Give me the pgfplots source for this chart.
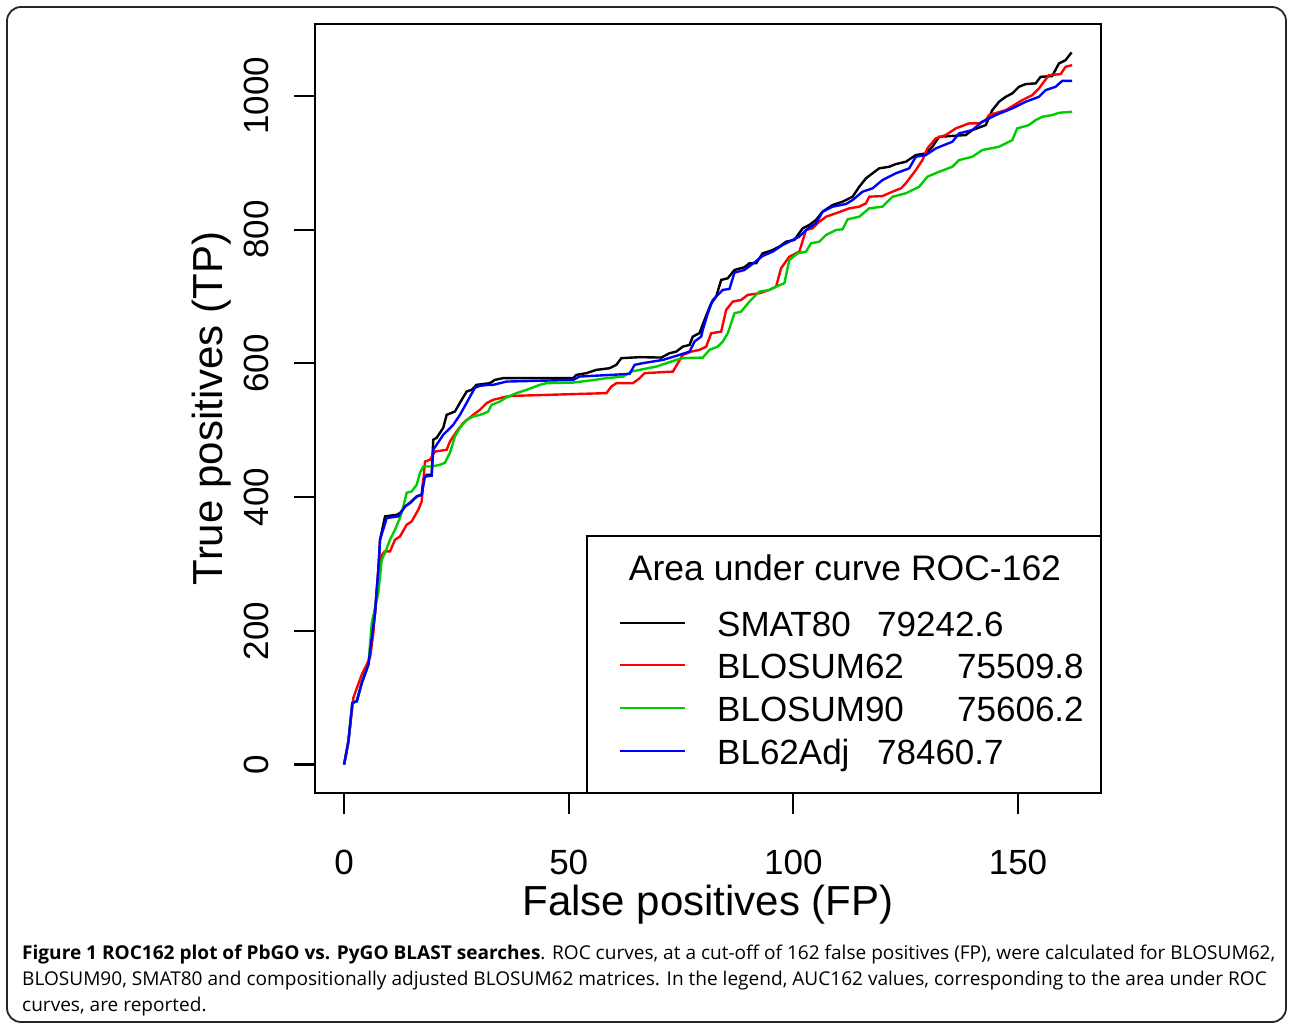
\documentclass[border=0pt]{standalone}
\usepackage{pgfplots}
\pgfplotsset{compat=1.18}
\usepackage{pgfplotstable}
\usepackage{fontspec}
\usepackage{graphicx}
\setmainfont{Liberation Sans}
\newfontfamily\capfont{Open Sans}
\definecolor{rgreen}{RGB}{0,205,0}

\pgfplotstableread{
x y
0 0
0.96 34.8
1.84 92.2
2.82 94.6
3.93 122.1
5.4 149.4
6.89 227.1
7.62 291.4
8.0 336.2
9.11 371.1
11.71 373.6
12.44 376.1
13.56 386.0
14.67 391.5
16.16 401.0
17.27 403.5
17.62 425.9
18.38 433.4
19.49 433.4
19.84 485.7
20.6 488.7
22.07 503.6
22.82 523.0
24.67 528.0
25.78 541.0
27.27 557.9
28.38 560.4
29.49 567.9
32.44 570.4
33.56 575.3
35.4 577.9
50.96 577.9
51.71 582.8
53.93 585.4
56.16 590.3
59.11 592.8
60.6 597.8
61.71 607.8
65.78 609.3
70.6 608.7
72.44 615.2
73.93 617.6
75.4 625.1
76.89 627.6
77.62 640.1
79.11 645.2
80.22 665.1
81.71 690.0
82.82 699.8
83.93 724.8
85.4 727.3
86.89 739.7
89.11 743.8
90.22 749.7
91.71 749.7
93.18 764.7
95.04 768.6
96.89 774.6
98.38 782.0
100.22 784.6
102.07 802.0
103.56 807.0
105.04 814.5
106.51 826.9
108.73 836.9
110.96 841.8
113.18 849.3
114.67 864.2
116.16 876.8
117.62 884.3
119.11 891.7
121.33 894.1
122.82 898.1
125.04 901.6
127.27 911.6
129.49 914.1
130.96 924.0
132.44 938.9
138.38 941.5
139.84 949.0
142.82 956.4
144.29 978.8
145.78 991.3
147.27 998.7
148.73 1003.8
150.22 1013.7
151.71 1017.7
153.93 1018.8
155.04 1028.6
157.62 1029.7
159.11 1048.6
160.6 1053.6
161.93 1065.1
}\smat

\pgfplotstableread{
x y
0 0
0.96 34.8
2.07 100.1
3.93 134.5
5.78 159.9
6.51 197.3
7.62 291.4
8.38 313.8
9.11 318.8
10.22 318.8
11.33 336.2
12.44 341.2
13.93 358.7
15.04 363.6
16.51 381.1
17.27 393.5
18.0 453.3
19.11 455.8
20.22 468.2
22.82 470.7
23.56 483.2
25.04 498.1
26.51 510.6
28.73 523.0
30.22 530.5
31.71 540.5
33.18 545.5
36.16 550.4
37.62 551.4
58.38 555.5
59.49 565.4
60.6 570.4
64.29 570.4
65.78 577.9
66.89 585.4
73.18 587.7
74.29 600.3
75.4 612.7
77.27 617.6
79.11 620.2
80.6 625.1
81.71 645.1
83.93 647.5
85.04 680.0
86.51 692.4
88.38 694.9
89.84 702.4
92.44 704.9
94.67 709.9
96.16 714.8
97.27 742.3
99.11 759.6
101.33 767.1
102.82 799.5
104.29 802.0
105.78 811.9
107.27 819.4
109.49 824.5
112.44 831.9
114.67 834.4
116.16 839.4
116.89 849.3
119.84 850.3
122.07 856.8
123.93 861.8
125.04 869.3
127.27 889.2
128.73 904.1
129.84 921.6
131.71 936.6
133.93 941.5
136.16 951.5
139.11 959.0
141.33 959.0
142.82 963.9
143.56 971.4
147.27 978.8
150.96 993.8
153.18 1001.2
154.67 1011.2
156.89 1031.1
159.49 1032.6
160.6 1043.6
162.07 1046.1
}\blosumsixtytwo

\pgfplotstableread{
x y
0 0
0.96 34.8
1.84 92.2
2.82 94.6
3.93 122.1
5.4 149.4
6.16 212.2
7.62 257.0
8.38 306.4
9.11 316.8
10.22 336.2
11.33 351.2
12.44 369.1
13.18 386.0
13.93 406.5
15.04 408.4
16.16 418.4
16.89 436.4
17.62 445.8
19.49 445.8
21.33 448.3
22.44 451.3
23.56 466.3
24.67 490.6
25.78 503.6
27.27 515.6
28.73 520.5
30.22 523.0
31.33 525.6
32.07 528.0
32.82 538.0
34.67 542.9
36.16 549.2
38.38 555.5
40.6 560.4
43.56 567.9
45.04 570.4
50.96 571.3
54.67 574.3
58.38 577.9
62.07 580.3
63.93 587.7
65.78 590.3
69.49 595.2
73.93 605.2
75.4 607.8
79.84 608.7
81.33 620.2
83.18 625.1
84.29 632.6
85.4 645.1
86.89 675.0
88.38 677.4
90.22 692.4
92.44 707.3
94.67 709.9
96.16 714.8
98.0 719.9
99.11 754.7
100.96 764.7
102.82 767.1
103.93 779.6
105.78 782.0
107.27 792.0
109.49 799.5
110.96 800.6
112.07 815.5
114.67 819.4
116.89 831.9
119.84 834.4
122.07 849.3
125.04 854.4
128.0 864.2
129.84 879.2
132.44 886.6
135.4 894.1
136.89 904.1
139.84 909.1
142.07 919.1
145.78 924.0
148.73 934.0
149.84 951.5
152.44 956.4
153.93 963.9
155.4 968.8
157.62 971.4
159.11 974.8
162.07 976.3
}\blosumninety

\pgfplotstableread{
x y
0 0
0.96 34.8
1.84 92.2
2.82 94.6
3.93 122.1
5.4 149.4
6.89 227.1
7.62 291.4
8.0 336.2
9.49 368.7
12.07 371.1
13.56 386.0
14.67 391.0
16.16 401.0
17.27 403.5
18.0 430.8
19.49 431.9
19.84 470.7
22.07 493.2
24.29 508.1
25.78 523.0
27.27 541.0
29.11 563.4
30.22 566.4
32.07 567.9
33.18 567.9
36.16 572.8
50.96 575.3
52.44 580.3
63.56 584.3
64.67 597.8
66.51 600.3
70.96 605.2
74.67 612.7
76.89 617.6
78.0 632.6
79.49 640.1
79.84 650.1
80.96 675.0
82.07 694.9
84.29 709.9
85.78 711.3
86.89 735.7
89.11 739.7
90.6 747.2
93.18 760.7
95.4 767.1
97.62 777.1
99.84 784.6
101.33 789.5
102.82 799.5
105.04 809.5
106.51 826.9
108.73 834.4
111.71 838.4
113.18 844.3
115.4 856.8
117.62 861.8
119.84 874.2
122.82 884.3
125.78 891.7
127.27 909.1
129.49 911.6
131.71 921.6
135.4 931.5
136.89 944.0
139.84 949.0
142.07 961.4
145.04 971.4
148.73 981.4
151.71 991.3
154.67 998.7
156.16 1008.7
158.38 1013.7
159.84 1022.6
162.07 1022.6
}\blsixtytwoadj

\newlength\capw
\newcommand\capfnt{\capfont\fontsize{19}{26}\selectfont}

\begin{document}
\settowidth\capw{\capfnt\textbf{Figure 1 ROC162 plot of PbGO vs. PyGO BLAST searches}. ROC curves, at a cut-off of 162 false positives (FP), were calculated for BLOSUM62,}%
\pgfmathsetmacro\capr{1253/\capw}%
\begin{tikzpicture}[x=1pt,y=1pt]
\useasboundingbox (0,0) rectangle (1290,-1026);
\draw[line width=1.8pt, color=black!85, rounded corners=14pt] (7,-7) rectangle (1286,-1022);
\begin{axis}[
  at={(315pt,-24pt)}, anchor=north west,
  scale only axis, width=786pt, height=769pt,
  xmin=-6.48, xmax=168.48, ymin=-42.6, ymax=1107.6,
  xtick={0,50,100,150}, ytick={0,200,400,600,800,1000},
  axis line style={line width=2.2pt},
  every tick/.style={black, line width=2.2pt},
  tick align=outside, major tick length=21pt,
  xtick pos=bottom, ytick pos=left,
  /pgf/number format/assume math mode=true,
  /pgf/number format/set thousands separator={},
  tick label style={font=\fontsize{35}{42}\selectfont},
  xticklabel style={anchor=center, yshift=-48pt},
  yticklabel style={anchor=center, rotate=90, yshift=38pt},
  every axis x label/.style={at={(axis description cs:0.5,-0.14564)}, anchor=center, font=\fontsize{42}{50}\selectfont},
  every axis y label/.style={at={(axis description cs:-0.13104,0.5)}, anchor=center, rotate=90, font=\fontsize{42}{50}\selectfont},
  xlabel={False positives (FP)},
  ylabel={True positives (TP)},
  clip=true,
]
\addplot[black, line width=2.4pt] table {\smat};
\addplot[red, line width=2.4pt] table {\blosumsixtytwo};
\addplot[rgreen, line width=2.4pt] table {\blosumninety};
\addplot[blue, line width=2.4pt] table {\blsixtytwoadj};
\end{axis}
% legend
\fill[white] (587,-536) rectangle (1101,-793);
\draw[line width=2.2pt] (587,-536) rectangle (1101,-793);
\node[anchor=center, font=\fontsize{35.5}{42}\selectfont, inner sep=0] at (845,-568) {Area under curve ROC-162};
\draw[black, line width=2.4pt] (620,-623) -- (685,-623);
\draw[red, line width=2.4pt] (620,-665) -- (685,-665);
\draw[rgreen, line width=2.4pt] (620,-708) -- (685,-708);
\draw[blue, line width=2.4pt] (620,-751) -- (685,-751);
\begin{scope}[every node/.style={anchor=base west, inner sep=0, font=\fontsize{35}{42}\selectfont}]
\node at (717,-636) {\makebox[160pt][l]{SMAT80}79242.6};
\node at (717,-678) {\makebox[240pt][l]{BLOSUM62}75509.8};
\node at (717,-721) {\makebox[240pt][l]{BLOSUM90}75606.2};
\node at (717,-764) {\makebox[160pt][l]{BL62Adj}78460.7};
\end{scope}
% caption
\begin{scope}[every node/.style={anchor=base west, inner sep=0}]
\node at (22,-959) {\scalebox{\capr}[1]{\capfnt\textbf{Figure 1 ROC162 plot of PbGO vs. PyGO BLAST searches}. ROC curves, at a cut-off of 162 false positives (FP), were calculated for BLOSUM62,}};
\node at (22,-985) {\scalebox{\capr}[1]{\capfnt BLOSUM90, SMAT80 and compositionally adjusted BLOSUM62 matrices. In the legend, AUC162 values, corresponding to the area under ROC}};
\node at (22,-1011) {\scalebox{\capr}[1]{\capfnt curves, are reported.}};
\end{scope}
\end{tikzpicture}
\end{document}
